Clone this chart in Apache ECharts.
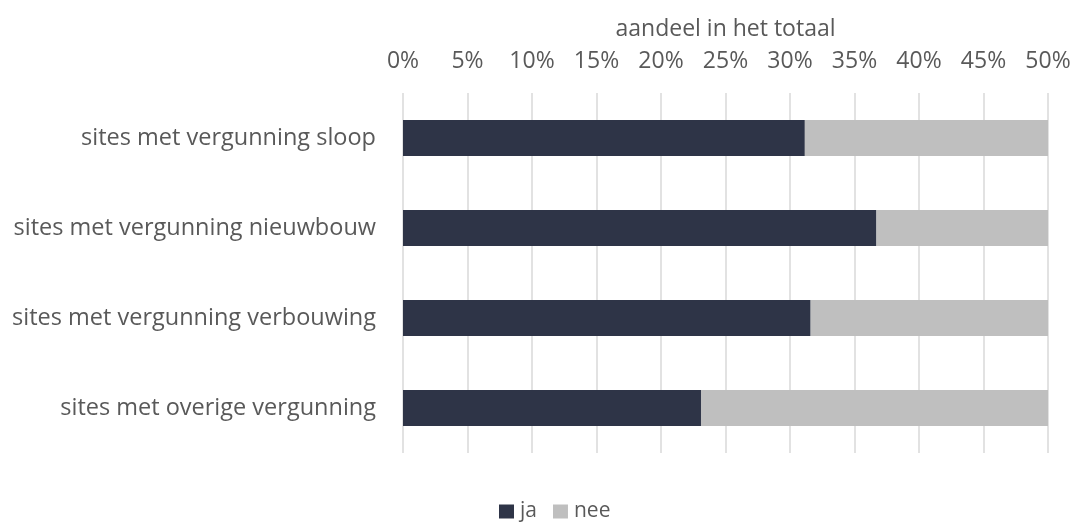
<!DOCTYPE html>
<html>
<head>
<meta charset="utf-8">
<script src="https://cdn.jsdelivr.net/npm/echarts@6/dist/echarts.min.js"></script>
<style>html,body{margin:0;padding:0;background:#fff}#c{width:1079px;height:525px}</style>
</head>
<body>
<div id="c"></div>
<script>
const categories = ["sites met vergunning sloop","sites met vergunning nieuwbouw","sites met vergunning verbouwing","sites met overige vergunning"];
const jaValues = [31.15, 36.7, 31.6, 23.1];
const neeValues = [18.85, 13.3, 18.4, 26.9];
const seriesNames = ["ja","nee"];
const axisTitle = "aandeel in het totaal";

const FONT = "Open Sans";
const chart = echarts.init(document.getElementById('c'), null, {renderer:'canvas'});
chart.setOption({
  animation:false,
  backgroundColor:'#fff',
  textStyle:{fontFamily:FONT},
  grid:{left:403, right:31, top:93, bottom:72, containLabel:false},
  legend:{
    data:seriesNames, left:494, top:496, itemWidth:15, itemHeight:14, itemGap:16,
    icon:'rect',
    textStyle:{fontFamily:FONT, fontSize:21, color:'#595959', padding:[0,0,0,1]}
  },
  xAxis:{
    type:'value', position:'top', min:0, max:50, interval:5,
    name:axisTitle, nameLocation:'middle', nameGap:52,
    nameTextStyle:{fontFamily:FONT, fontSize:23, color:'#595959'},
    axisLine:{show:false}, axisTick:{show:false},
    axisLabel:{formatter:v=>v+'%', fontFamily:FONT, fontSize:23, color:'#595959', margin:20},
    splitLine:{show:true, lineStyle:{color:'#D9D9D9', width:1.5}}
  },
  yAxis:{
    type:'category', data:categories, inverse:true,
    axisLine:{show:false}, axisTick:{show:false},
    axisLabel:{fontFamily:FONT, fontSize:23.5, color:'#595959', margin:27}
  },
  series:[
    {name:seriesNames[0], type:'bar', stack:'t', data:jaValues, barWidth:36, itemStyle:{color:'#2E3447'}},
    {name:seriesNames[1], type:'bar', stack:'t', data:neeValues, barWidth:36, itemStyle:{color:'#BFBFBF'}}
  ]
});
</script>
</body>
</html>
